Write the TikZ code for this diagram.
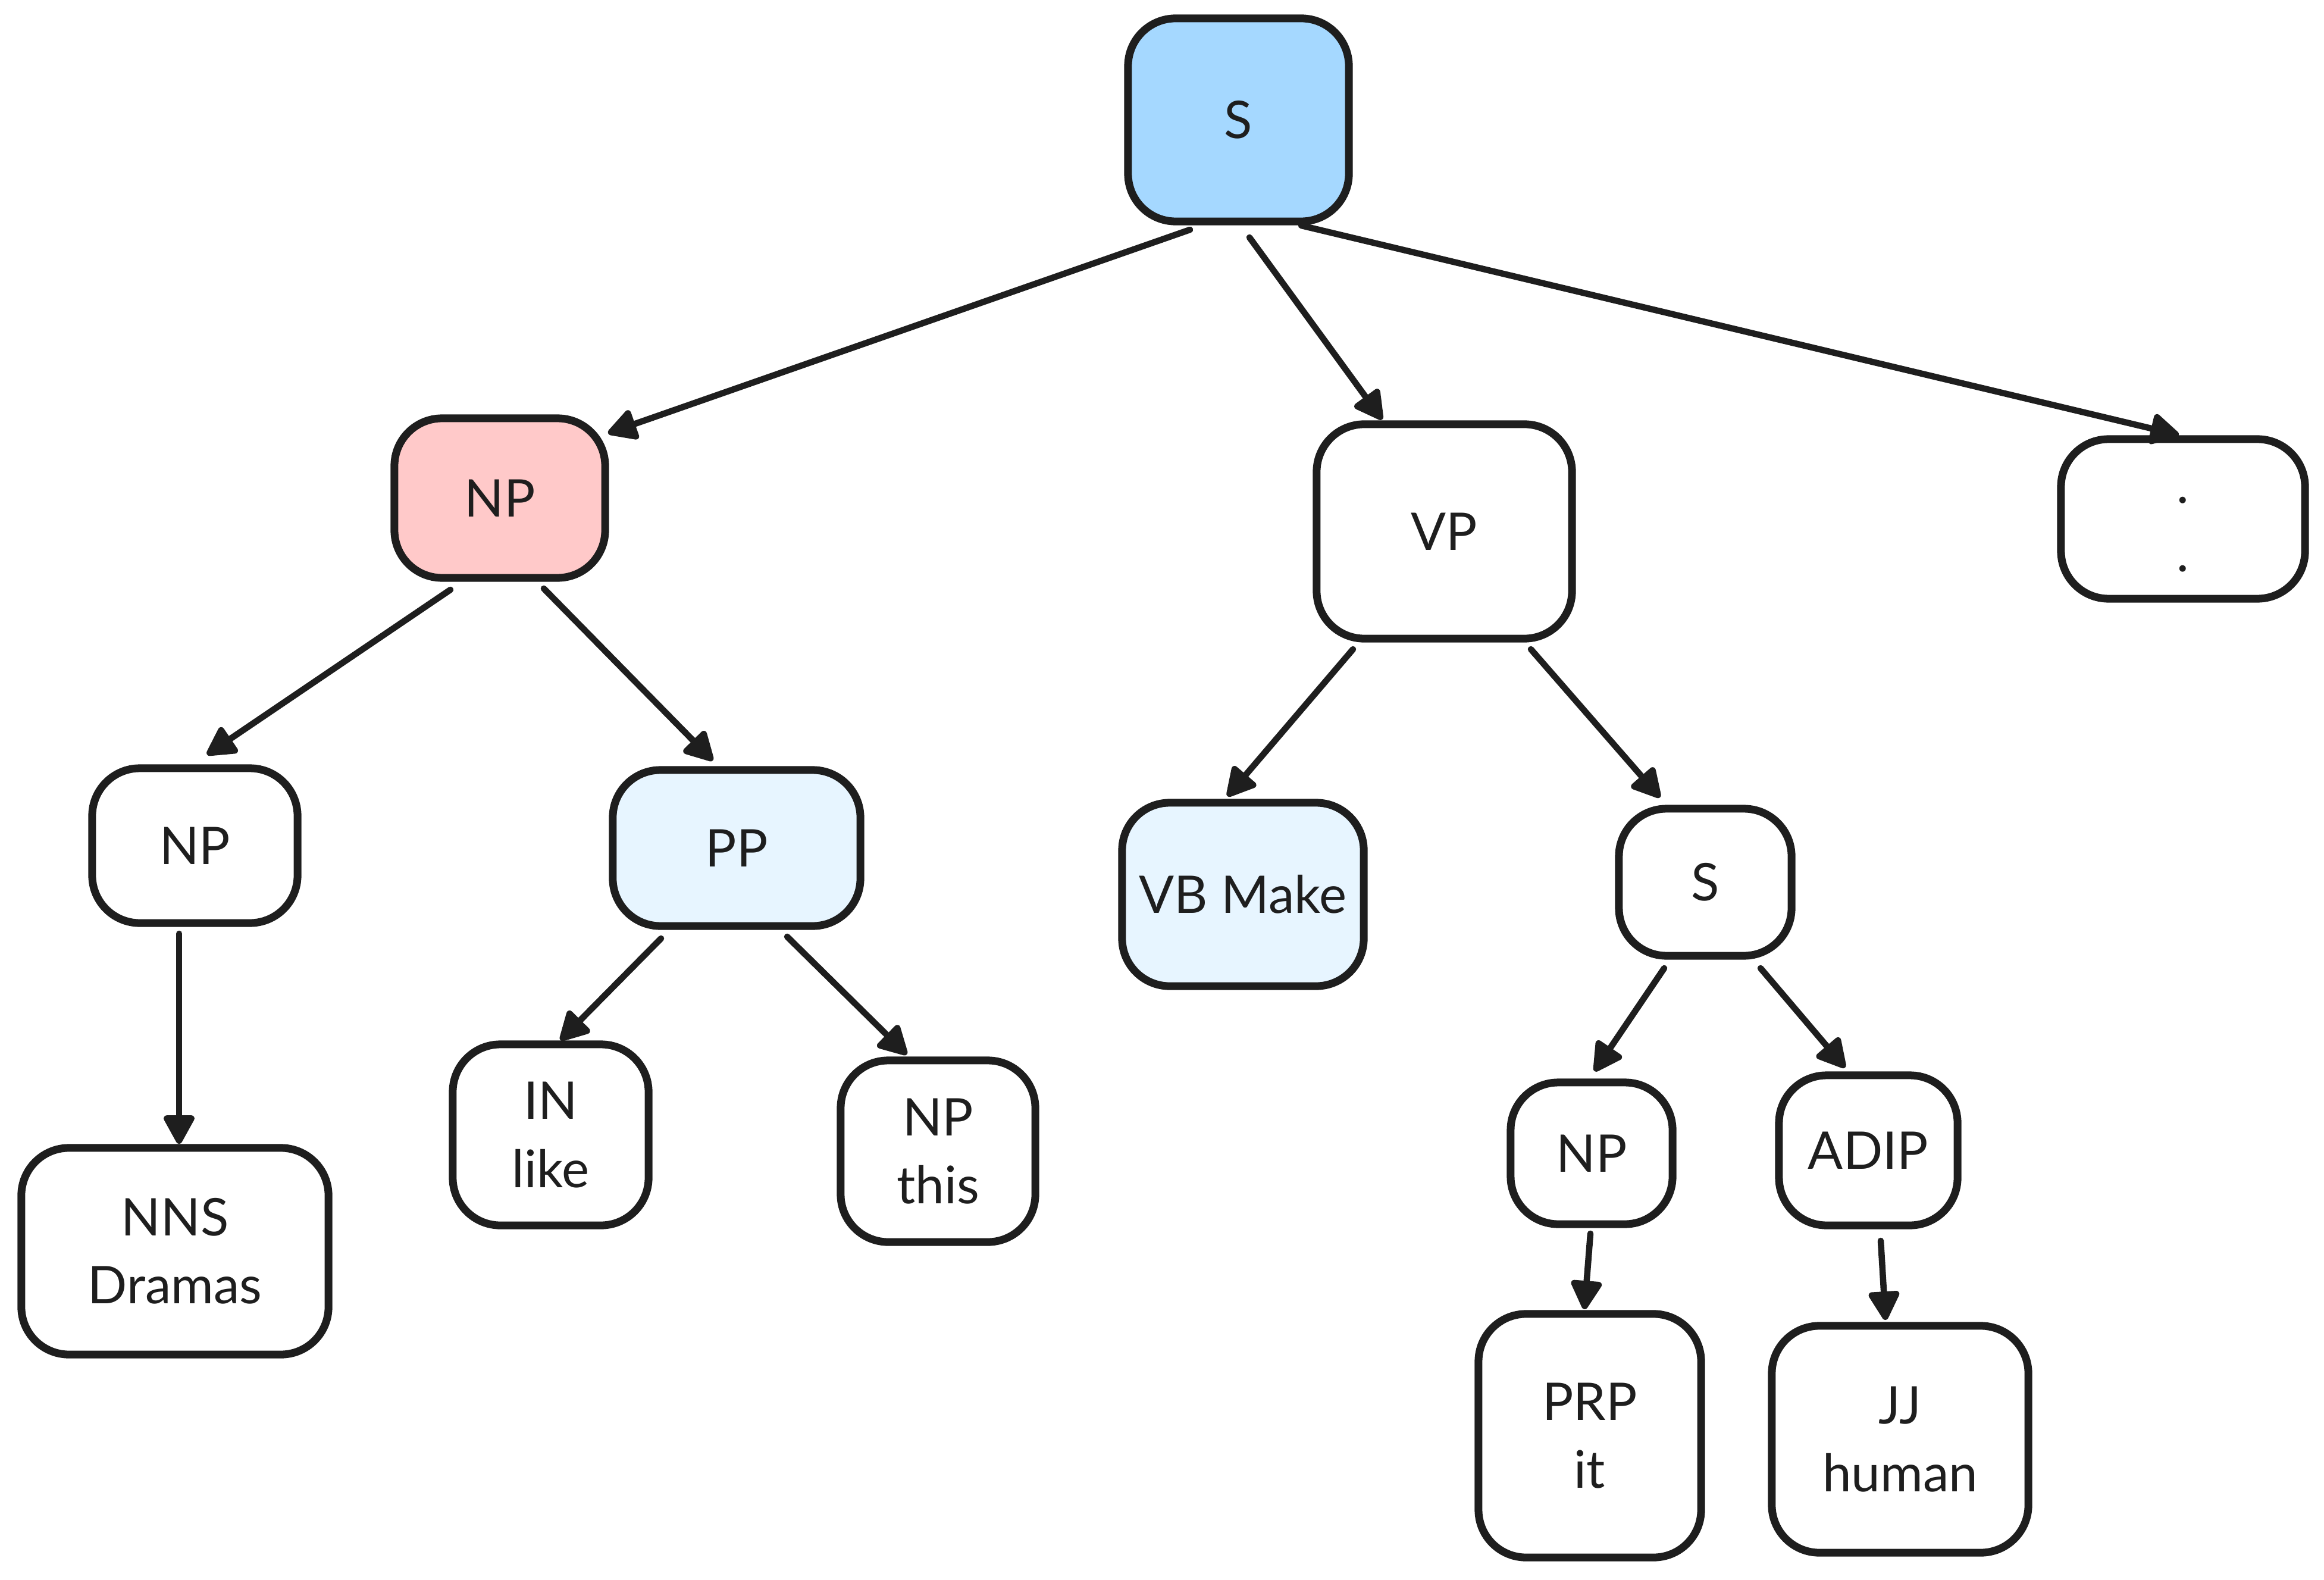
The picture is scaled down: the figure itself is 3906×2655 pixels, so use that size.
\documentclass[tikz,border=0pt]{standalone}
\usepackage{fontspec}
\setmainfont{Lato}
\usetikzlibrary{arrows.meta,calc}
\definecolor{ink}{HTML}{1E1E1E}
\definecolor{skyfill}{HTML}{A5D8FF}
\definecolor{rosefill}{HTML}{FFC9C9}
\definecolor{icefill}{HTML}{E7F5FF}
\tikzset{
  box/.style={draw=ink, line width=3.7pt, rounded corners=0.8cm, fill=white,
    inner sep=0pt, align=center, text=ink,
    font=\fontsize{24.8pt}{32.5pt}\selectfont},
  edge/.style={draw=ink, line width=3pt, line cap=round,
    -{Triangle[length=0.54cm, width=0.56cm, round]}},
}
\begin{document}
\begin{tikzpicture}[x=0.01cm, y=-0.01cm]
\useasboundingbox (0,0) rectangle (3906,2655);

% tree nodes
\node[box, fill=skyfill, minimum width=3.71cm, minimum height=3.41cm] (s) at (2081.5,201.5) {S};
\node[box, fill=rosefill, minimum width=3.54cm, minimum height=2.68cm] (np1) at (840,837) {NP};
\node[box, minimum width=4.29cm, minimum height=3.60cm] (vp) at (2427.5,893) {VP};
\node[box, minimum width=4.10cm, minimum height=2.68cm] (dots) at (3669,872) {\vphantom{X}.\\.};
\node[box, minimum width=3.45cm, minimum height=2.60cm] (np2) at (327.5,1421) {NP};
\node[box, fill=icefill, minimum width=4.16cm, minimum height=2.62cm] (pp) at (1238,1425) {PP};
\node[box, fill=icefill, minimum width=4.06cm, minimum height=3.08cm] (vb) at (2089,1503) {VB Make};
\node[box, minimum width=2.90cm, minimum height=2.47cm] (s2) at (2866,1482.5) {S};
\node[box, minimum width=3.29cm, minimum height=3.04cm] (in) at (925.5,1907) {IN\\like};
\node[box, minimum width=3.27cm, minimum height=3.05cm] (npthis) at (1576.5,1934.5) {NP\\this};
\node[box, minimum width=5.16cm, minimum height=3.47cm] (nns) at (294,2102.5) {NNS\\Dramas};
\node[box, minimum width=2.72cm, minimum height=2.38cm] (npit) at (2675,1938) {NP};
\node[box, minimum width=3.00cm, minimum height=2.52cm] (adip) at (3140,1933) {ADIP};
\node[box, minimum width=3.74cm, minimum height=4.09cm] (prp) at (2672,2412.5) {PRP\\it};
\node[box, minimum width=4.31cm, minimum height=3.81cm] (jj) at (3193.5,2418.5) {JJ\\human};

% connectors
\draw[edge] ($(s)+(-81.5,184.5)$) -- ($(np1)+(182,-109)$);
\draw[edge] ($(s)+(18.5,197.5)$) -- ($(vp)+(-104.5,-188)$);
\draw[edge] ($(s)+(105.5,177.5)$) -- ($(dots)+(-7,-141)$);
\draw[edge] ($(np1)+(-83,154)$) -- ($(np2)+(20.5,-153)$);
\draw[edge] ($(np1)+(74,152)$) -- ($(pp)+(-40,-147)$);
\draw[edge] ($(np2)+(-26.5,148)$) -- ($(nns)+(7,-180.5)$);
\draw[edge] ($(pp)+(-127,152)$) -- ($(in)+(16.5,-159)$);
\draw[edge] ($(pp)+(85,149)$) -- ($(npthis)+(-52.5,-162.5)$);
\draw[edge] ($(vp)+(-153.5,198)$) -- ($(vb)+(-26,-165)$);
\draw[edge] ($(vp)+(145.5,198)$) -- ($(s2)+(-76,-142.5)$);
\draw[edge] ($(s2)+(-69,144.5)$) -- ($(npit)+(5,-138)$);
\draw[edge] ($(s2)+(93,144.5)$) -- ($(adip)+(-39,-139)$);
\draw[edge] ($(npit)+(-2,135)$) -- ($(prp)+(-9,-212.5)$);
\draw[edge] ($(adip)+(21,152)$) -- ($(jj)+(-24.5,-200.5)$);
\end{tikzpicture}
\end{document}
